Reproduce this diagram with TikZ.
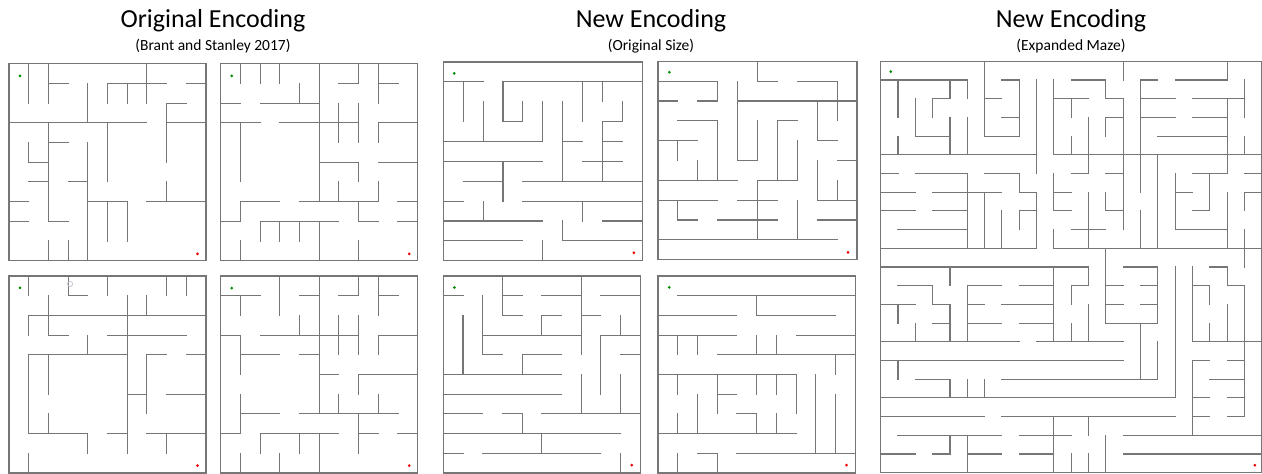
\documentclass[tikz,border=0pt]{standalone}
\usepackage{fontspec}
\setmainfont{Carlito}
\definecolor{wallgray}{RGB}{118,118,118}
\definecolor{startgreen}{RGB}{0,140,0}
\definecolor{goalred}{RGB}{235,0,0}
\definecolor{ghostgray}{RGB}{200,200,214}
\tikzset{
  wall/.style={draw=wallgray, line width=1.1pt, line cap=rect},
  title/.style={font=\fontsize{26}{30}\selectfont},
  subtitle/.style={font=\fontsize{15.5}{18}\selectfont},
}

\begin{document}
\begin{tikzpicture}[x=1pt, y=-1pt]
\useasboundingbox (0,0) rectangle (1262,474);
\fill[white] (0,0) rectangle (1262,474);

% headings
\node[title] (t1) at (213,21) {Original Encoding};
\node[subtitle] (s1) at (213,46.5) {(Brant and Stanley 2017)};
\node[title] (t2) at (651,21) {New Encoding};
\node[subtitle] (s2) at (651,46.5) {(Original Size)};
\node[title] (t3) at (1071,21) {New Encoding};
\node[subtitle] (s3) at (1071,46.5) {(Expanded Maze)};

% original encoding, top left
\begin{scope}[shift={(9,63.7)}, x=19.7pt, y=-19.7pt]
\draw[wall] (0,0) rectangle (10,10);
\draw[wall] (1,0)--(1,2) (2,0)--(2,2) (2,1)--(3,1) (4,1)--(4,3)
  (5,2)--(5,1)--(8,1) (6,1)--(6,2) (7,0)--(7,2) (9,1)--(10,1)
  (9,2)--(8,2)--(8,5) (0,3)--(7,3) (8,3)--(10,3)
  (2,3)--(2,8)--(3,8) (2,4)--(3,4) (5,3)--(5,6)
  (1,4)--(1,5)--(2,5) (1,6)--(2,6) (3,6)--(4,6) (4,4)--(4,10)
  (0,7)--(1,7) (6,9)--(6,7)--(4,7) (5,7)--(5,9)
  (7,7)--(10,7) (8,6)--(8,7) (0,8)--(1,8) (2,9)--(2,10) (3,9)--(3,10);
\fill[startgreen] (0.56,0.62) circle (1.5pt);
\fill[goalred] (9.57,9.65) circle (1.5pt);
\end{scope}

% original encoding, top right
\begin{scope}[shift={(220.7,63.7)}, x=19.7pt, y=-19.7pt]
\draw[wall] (0,0) rectangle (10,10);
\draw[wall] (1,0)--(1,1) (2,0)--(2,1) (3,0)--(3,1) (4,1)--(4,2)
  (0,2)--(1,2) (2,2)--(5,2) (5,0)--(5,7) (6,1)--(7,1)--(7,0)
  (8,0)--(8,2) (8,1)--(9,1) (0,3)--(2,3) (3,3)--(7,3)
  (6,2)--(6,4) (7,2)--(7,4) (8,4)--(8,3)--(10,3) (1,3)--(1,6)
  (5,5)--(7,5)--(7,6) (8,5)--(10,5) (6,6)--(6,7) (8,6)--(8,7)
  (3,7)--(1,7)--(1,8)--(0,8) (4,7)--(8,7) (9,7)--(10,7)
  (7,7)--(7,8)--(8,8) (9,8)--(10,8)
  (2,9)--(2,8)--(6,8) (3,8)--(3,9) (4,8)--(4,9) (5,8)--(5,10)
  (1,9)--(1,10) (7,9)--(7,10);
\fill[startgreen] (0.56,0.62) circle (1.5pt);
\fill[goalred] (9.57,9.65) circle (1.5pt);
\end{scope}

% original encoding, bottom left
\begin{scope}[shift={(9,276)}, x=19.7pt, y=-19.7pt]
\draw[wall] (0,0) rectangle (10,10);
\draw[wall] (1,0)--(1,1) (3,0)--(3,1)--(4,1) (5,0)--(5,1)
  (8,0)--(8,1) (9,0)--(9,1) (2,1)--(2,3)--(3,3)
  (1,3)--(1,2)--(10,2) (6,1)--(6,9) (7,1)--(7,2) (5,3)--(9,3)
  (4,3)--(4,4) (6,4)--(1,4)--(1,8)--(4,8)--(4,9)
  (2,4)--(2,6) (2,7)--(2,8) (8,4)--(7,4)--(7,7) (9,4)--(10,4)
  (6,6)--(7,6) (8,6)--(10,6) (5,8)--(6,8) (7,8)--(10,8) (8,8)--(8,9)
  (1,9)--(1,10);
\draw[ghostgray, line width=0.8pt] (3.1,0.4) circle (2.6pt);
\fill[startgreen] (0.56,0.6) circle (1.5pt);
\fill[goalred] (9.57,9.63) circle (1.5pt);
\end{scope}

% original encoding, bottom right
\begin{scope}[shift={(220.7,276)}, x=19.7pt, y=-19.7pt]
\draw[wall] (0,0) rectangle (10,10);
\draw[wall] (0,1)--(2,1) (1,1)--(1,2) (3,0)--(3,2) (4,1)--(5,1)
  (5,0)--(5,7) (6,1)--(7,1)--(7,0) (8,0)--(8,2) (8,1)--(9,1)
  (4,2)--(4,3) (2,3)--(7,3) (0,3)--(1,3)--(1,5)
  (6,2)--(6,4) (7,2)--(7,4) (8,4)--(8,3)--(10,3)
  (1,4)--(3,4) (4,4)--(5,4) (5,5)--(6,5) (7,6)--(7,5)--(10,5)
  (1,6)--(1,8)--(0,8) (1,7)--(3,7) (4,7)--(9,7)
  (6,6)--(6,7) (8,6)--(8,7) (7,7)--(7,9) (7,8)--(8,8) (9,8)--(10,8)
  (2,9)--(2,8)--(6,8) (4,8)--(4,9) (5,8)--(5,10)
  (1,9)--(1,10) (3,9)--(3,10);
\fill[startgreen] (0.56,0.62) circle (1.5pt);
\fill[goalred] (9.57,9.63) circle (1.5pt);
\end{scope}

% new encoding, top left
\begin{scope}[shift={(443.3,62)}, x=19.9pt, y=-19.87pt]
\draw[wall] (0,0) rectangle (10,10);
\draw[wall] (0,1)--(2,1) (1,1)--(1,3)
  (10,1)--(3,1)--(3,3)--(4,3)--(4,2)
  (2,2)--(2,4) (0,4)--(5,4)--(5,2) (7,1)--(7,3) (8,1)--(8,2)
  (9,2)--(9,3)--(8,3)--(8,6) (6,2)--(6,6) (6,4)--(7,4) (8,4)--(9,4)
  (7,5)--(9,5) (0,5)--(5,5) (3,5)--(3,7) (1,6)--(3,6) (4,6)--(10,6)
  (0,7)--(1,7) (4,7)--(10,7) (7,7)--(7,8) (2,7)--(2,8) (0,8)--(5,8)
  (8,8)--(10,8) (6,8)--(6,9)--(10,9) (0,9)--(4,9) (5,9)--(5,10);
\fill[startgreen] (0.55,0.57) circle (1.5pt);
\fill[goalred] (9.58,9.6) circle (1.5pt);
\end{scope}

% new encoding, top right
\begin{scope}[shift={(658,61.3)}, x=19.9pt, y=-19.84pt]
\draw[wall] (0,0) rectangle (10,10);
\draw[wall] (5,0)--(5,1)--(6,1) (0,1)--(3,1)--(3,2)--(2,2) (0,2)--(1,2)
  (7,1)--(9,1)--(9,3) (4,2)--(10,2) (4,1)--(4,5)--(5,5)--(5,3)
  (8,2)--(8,4)--(9,4) (1,3)--(3,3)--(3,6) (7,3)--(6,3)--(6,6)
  (7,4)--(7,6)--(5,6)--(5,9) (0,4)--(2,4) (1,4)--(1,5) (2,5)--(2,6)
  (0,6)--(4,6) (9,5)--(10,5) (8,5)--(8,7)--(10,7) (9,6)--(9,7)
  (0,7)--(3,7) (1,7)--(1,8)--(2,8) (4,7)--(6,7) (3,8)--(6,8)
  (7,7)--(7,9) (8,8)--(10,8) (0,9)--(9,9);
\fill[startgreen] (0.57,0.55) circle (1.5pt);
\fill[goalred] (9.55,9.63) circle (1.5pt);
\end{scope}

% new encoding, bottom left
\begin{scope}[shift={(443.3,276)}, x=19.7pt, y=-19.7pt]
\draw[wall] (0,0) rectangle (10,10);
\draw[wall] (0,1)--(1,1) (3,0)--(3,2)--(4,2) (3,1)--(4,1)
  (5,1)--(7,1) (7,0)--(7,4) (8,1)--(10,1) (2,1)--(2,4)--(3,4)
  (6,2)--(5,2)--(5,3) (2,3)--(7,3) (7,2)--(8,2) (9,2)--(9,3)
  (10,3)--(8,3)--(8,6) (9,4)--(10,4) (1,2)--(1,5)
  (6,4)--(4,4)--(4,5) (0,5)--(6,5) (0,6)--(6,6) (7,5)--(7,7)
  (9,5)--(9,7) (0,7)--(2,7) (3,7)--(4,7)--(4,8) (5,7)--(10,7)
  (0,8)--(9,8) (5,8)--(5,9) (0,9)--(1,9) (2,9)--(8,9) (9,9)--(9,10);
\fill[startgreen] (0.56,0.58) circle (1.5pt);
\fill[goalred] (9.57,9.6) circle (1.5pt);
\end{scope}

% new encoding, bottom right
\begin{scope}[shift={(658,276)}, x=19.73pt, y=-19.7pt]
\draw[wall] (0,0) rectangle (10,10);
\draw[wall] (1,1)--(10,1) (5,1)--(5,2)--(9,2) (0,2)--(4,2)
  (0,3)--(4,3) (1,3)--(1,4) (2,3)--(2,4) (7,3)--(10,3)
  (3,4)--(10,4) (5,3)--(5,4) (6,3)--(6,4) (9,4)--(9,5)
  (0,5)--(7,5)--(7,7) (1,5)--(1,6) (5,5)--(5,6) (6,5)--(6,6)
  (3,5)--(3,7) (3,6)--(4,6) (8,5)--(8,9) (9,6)--(9,9) (2,6)--(2,8)
  (1,7)--(1,8) (4,7)--(5,7)--(5,8) (6,7)--(6,8) (0,8)--(7,8)
  (4,9)--(10,9) (2,9)--(3,9)--(3,10) (1,9)--(1,10);
\fill[startgreen] (0.57,0.58) circle (1.5pt);
\fill[goalred] (9.55,9.6) circle (1.5pt);
\end{scope}

% new encoding, expanded maze
\begin{scope}[shift={(880.7,61.3)}, x=17.32pt, y=-18.7pt]
\draw[wall] (0,0) rectangle (22,22);
\draw[wall] (6,0)--(6,4)--(8,4)--(8,1)--(7,1) (6,2)--(7,2) (7,3)--(8,3)
  (0,1)--(5,1)--(5,2) (1,1)--(1,3) (4,1)--(4,2)--(3,2)--(3,3)
  (2,2)--(2,4)--(4,4) (4,3)--(4,5) (5,3)--(5,5) (1,4)--(1,5)
  (9,1)--(9,6) (10,1)--(10,5) (10,2)--(12,2) (11,2)--(11,3) (11,4)--(11,5)
  (0,5)--(9,5) (10,5)--(22,5) (0,6)--(1,6) (2,6)--(5,6)--(5,10)
  (6,6)--(8,6)--(8,7)--(9,7) (0,7)--(2,7) (3,7)--(7,7) (6,7)--(6,10)
  (9,7)--(9,10) (8,8)--(9,8) (8,8)--(8,9) (0,8)--(2,8) (3,8)--(5,8)
  (7,8)--(7,10) (1,9)--(5,9) (0,10)--(9,10)
  (10,6)--(10,8) (10,7)--(11,7) (10,8)--(11,8) (10,9)--(10,10)--(22,10);
\draw[wall] (14,0)--(14,1) (11,1)--(13,1)--(13,2)--(14,2)--(14,9)
  (16,1)--(15,1)--(15,7) (15,2)--(17,2) (15,3)--(17,3) (16,4)--(20,4)
  (17,1)--(20,1)--(20,0) (18,2)--(21,2) (18,3)--(20,3)
  (20,2)--(20,6)--(18,6) (21,1)--(21,3) (21,4)--(21,5)
  (12,3)--(12,6)--(11,6) (14,3)--(13,3)--(13,4) (13,6)--(14,6)
  (16,5)--(16,10) (17,6)--(17,9)--(20,9) (17,7)--(18,7)
  (19,6)--(19,8)--(18,8) (21,6)--(22,6) (20,7)--(20,10)
  (22,7)--(21,7)--(21,8) (21,9)--(21,11) (12,7)--(12,10) (11,9)--(13,9)
  (13,7)--(13,8)--(14,8) (15,8)--(15,10) (13,10)--(13,14);
\draw[wall] (0,11)--(12,11)--(12,12)--(11,12)--(11,13) (4,11)--(4,12)
  (10,11)--(10,15) (1,12)--(3,12)--(3,13)--(4,13)--(4,15)
  (0,13)--(2,13) (1,13)--(1,14) (2,14)--(2,15) (3,14)--(4,14)
  (7,12)--(5,12)--(5,15) (5,13)--(6,13) (5,14)--(7,14)
  (8,12)--(10,12) (7,13)--(10,13) (8,14)--(10,14)
  (0,15)--(8,15) (9,15)--(14,15) (11,14)--(11,15) (0,16)--(14,16)
  (1,16)--(1,17) (2,17)--(4,17)--(4,18) (5,17)--(5,18) (6,17)--(6,18)
  (7,17)--(16,17) (0,18)--(17,18) (0,19)--(6,19) (7,19)--(17,19)
  (10,19)--(10,22) (1,20)--(7,20) (4,20)--(4,21) (5,20)--(5,22)
  (8,20)--(11,20) (0,21)--(2,21) (3,21)--(4,21) (5,21)--(7,21)
  (8,21)--(10,21) (11,21)--(11,22) (12,21)--(12,22) (12,19)--(12,20)
  (13,20)--(13,22);
\draw[wall] (13,12)--(14,12) (13,13)--(14,13) (13,14)--(16,14)
  (14,11)--(16,11)--(16,14) (15,12)--(16,12) (15,13)--(16,13)
  (15,14)--(15,17) (16,15)--(16,17) (12,13)--(12,15) (17,11)--(17,18)
  (18,11)--(18,15)--(22,15) (18,12)--(19,12)--(19,13) (19,14)--(19,15)
  (19,11)--(20,11)--(20,12)--(21,12)--(21,19) (20,13)--(20,15)
  (19,16)--(18,16)--(18,20) (20,16)--(21,16) (19,17)--(21,17)
  (18,18)--(19,18) (20,18)--(21,18) (18,19)--(19,19) (20,19)--(21,19)
  (14,20)--(22,20) (14,21)--(22,21);
\fill[startgreen] (0.58,0.55) circle (1.5pt);
\fill[goalred] (21.6,21.6) circle (1.5pt);
\end{scope}
\end{tikzpicture}
\end{document}
